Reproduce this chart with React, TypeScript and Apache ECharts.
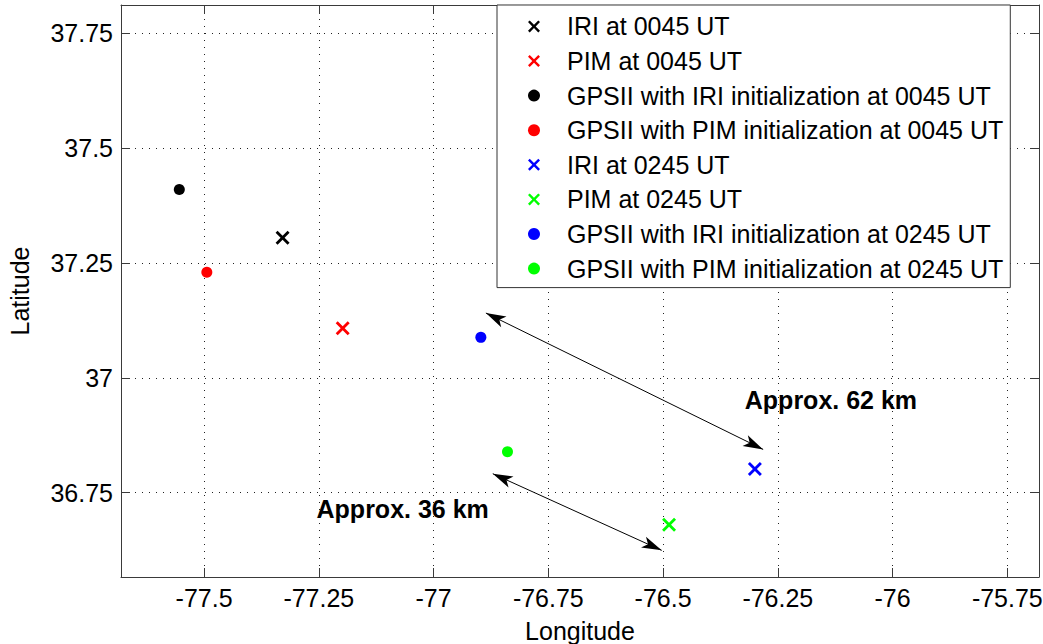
import React, { useEffect, useRef } from "react";
import * as echarts from "echarts";

const seriesNames = [
  "IRI at 0045 UT",
  "PIM at 0045 UT",
  "GPSII with IRI initialization at 0045 UT",
  "GPSII with PIM initialization at 0045 UT",
  "IRI at 0245 UT",
  "PIM at 0245 UT",
  "GPSII with IRI initialization at 0245 UT",
  "GPSII with PIM initialization at 0245 UT",
];
const seriesColors = ["#000000", "#ff0000", "#000000", "#ff0000", "#0000ff", "#00ff00", "#0000ff", "#00ff00"];
const seriesMarkers = ["cross", "cross", "dot", "dot", "cross", "cross", "dot", "dot"];
// [longitude, latitude]
const seriesPoints: number[][] = [
  [-77.329, 37.305],
  [-77.198, 37.108],
  [-77.554, 37.41],
  [-77.494, 37.23],
  [-76.3, 36.801],
  [-76.487, 36.68],
  [-76.897, 37.088],
  [-76.839, 36.839],
];

const xTicks = [-77.5, -77.25, -77, -76.75, -76.5, -76.25, -76, -75.75];
const yTicks = [36.75, 37, 37.25, 37.5, 37.75];
const xRange = [-77.681, -75.681];
const yRange = [36.566, 37.812];

// arrows: [from lon, from lat, to lon, to lat]
const arrows: number[][] = [
  [-76.886, 37.141, -76.282, 36.844],
  [-76.871, 36.791, -76.503, 36.624],
];
const annotationTexts = ["Approx. 62 km", "Approx. 36 km"];
const annotationAnchors: number[][] = [
  [-76.322, 36.951],
  [-77.255, 36.715],
];

const FONT = "'Liberation Sans', Arial, Helvetica, sans-serif";
const CROSS =
  "path://M2,0L7,5L12,0L14,2L9,7L14,12L12,14L7,9L2,14L0,12L5,7L0,2Z";

export default function App() {
  const ref = useRef<HTMLDivElement>(null);
  useEffect(() => {
    if (!ref.current) return;
    const chart = echarts.init(ref.current, null, { renderer: "svg" });
    const axisLine = { show: true, lineStyle: { color: "#3a3a3a", width: 1 } };
    const series: any[] = seriesNames.map((name, i) => ({
      type: "scatter",
      name,
      data: [seriesPoints[i]],
      symbol: seriesMarkers[i] === "cross" ? CROSS : "circle",
      symbolSize: seriesMarkers[i] === "cross" ? 14 : 11,
      itemStyle: { color: seriesColors[i], opacity: 1 },
      z: 5,
    }));
    series[0].markLine = {
      silent: true,
      symbol: ["arrow", "arrow"],
      symbolSize: [9, 20],
      label: { show: false },
      lineStyle: { color: "#000", width: 1, type: "solid" },
      itemStyle: { color: "#000" },
      emphasis: { disabled: true },
      data: arrows.map((a) => [{ coord: [a[0], a[1]] }, { coord: [a[2], a[3]] }]),
    };
    series[0].markPoint = {
      silent: true,
      symbol: "circle",
      symbolSize: 0,
      itemStyle: { color: "transparent" },
      label: {
        show: true,
        position: "right",
        distance: 0,
        color: "#000",
        fontFamily: FONT,
        fontWeight: "bold",
        fontSize: 25,
      },
      data: annotationTexts.map((t, i) => ({
        coord: annotationAnchors[i],
        value: t,
        label: { formatter: t },
      })),
    };
    chart.setOption({
      animation: false,
      backgroundColor: "#fff",
      grid: { left: 121, right: 4, top: 5, bottom: 67, show: false, outerBoundsMode: "none", containLabel: false },
      legend: {
        orient: "vertical",
        left: 497,
        top: 5,
        padding: [7.4, 7, 5, 31],
        itemWidth: 12,
        itemHeight: 12,
        itemGap: 6.6,
        borderColor: "#333",
        borderWidth: 1,
        backgroundColor: "#fff",
        selectedMode: false,
        textStyle: { fontFamily: FONT, fontSize: 25, color: "#000", lineHeight: 28, padding: [0, 0, 0, 22] },
        data: seriesNames.map((n, i) => ({
          name: n,
          icon: seriesMarkers[i] === "cross" ? CROSS : "circle",
        })),
        z: 10,
      },
      xAxis: [
        {
          type: "value",
          position: "bottom",
          min: xRange[0],
          max: xRange[1],
          name: "Longitude",
          nameLocation: "middle",
          nameGap: 41,
          nameTextStyle: { fontFamily: FONT, fontSize: 25, color: "#000" },
          axisLine,
          axisTick: { show: true, inside: true, length: 9, customValues: xTicks, lineStyle: { color: "#3a3a3a" } },
          axisLabel: { customValues: xTicks, fontFamily: FONT, fontSize: 25, color: "#000", margin: 8 },
          splitLine: { show: true, lineStyle: { color: "#222", width: 1, type: [1, 6] } },
        },
        {
          type: "value",
          position: "top",
          min: xRange[0],
          max: xRange[1],
          axisLine,
          axisTick: { show: true, inside: true, length: 9, customValues: xTicks, lineStyle: { color: "#3a3a3a" } },
          axisLabel: { show: false, customValues: xTicks },
          splitLine: { show: false },
        },
      ],
      yAxis: [
        {
          type: "value",
          position: "left",
          min: yRange[0],
          max: yRange[1],
          name: "Latitude",
          nameLocation: "middle",
          nameGap: 89,
          nameTextStyle: { fontFamily: FONT, fontSize: 25, color: "#000" },
          axisLine,
          axisTick: { show: true, inside: true, length: 9, customValues: yTicks, lineStyle: { color: "#3a3a3a" } },
          axisLabel: { customValues: yTicks, fontFamily: FONT, fontSize: 25, color: "#000", margin: 8 },
          splitLine: { show: true, lineStyle: { color: "#222", width: 1, type: [1, 6] } },
        },
        {
          type: "value",
          position: "right",
          min: yRange[0],
          max: yRange[1],
          axisLine,
          axisTick: { show: true, inside: true, length: 9, customValues: yTicks, lineStyle: { color: "#3a3a3a" } },
          axisLabel: { show: false, customValues: yTicks },
          splitLine: { show: false },
        },
      ],
      series,
    });
    return () => chart.dispose();
  }, []);
  return (
    <div
      ref={ref}
      style={{ position: "fixed", left: 0, top: 0, width: 1043, height: 644, background: "#fff" }}
    />
  );
}
